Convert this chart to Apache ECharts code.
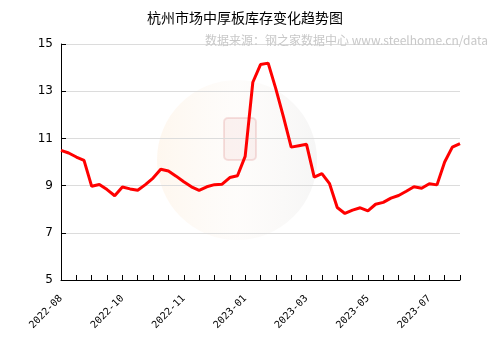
<!DOCTYPE html>
<html>
<head>
<meta charset="utf-8">
<script src="https://cdn.jsdelivr.net/npm/echarts@6/dist/echarts.min.js"></script>
<style>html,body{margin:0;padding:0;background:#fff}#c{width:490px;height:350px}</style>
</head>
<body>
<div id="c"></div>
<script>
var title = '杭州市场中厚板库存变化趋势图';
var source = '数据来源：钢之家数据中心 www.steelhome.cn/data';
var categories = [
 '2022-08-05','2022-08-12','2022-08-19','2022-08-26','2022-09-02','2022-09-09','2022-09-16','2022-09-23',
 '2022-10-14','2022-10-18','2022-10-21','2022-10-25','2022-10-28','2022-11-01','2022-11-04','2022-11-08',
 '2022-11-11','2022-11-18','2022-11-25','2022-12-02','2022-12-09','2022-12-16','2022-12-23','2022-12-30',
 '2023-01-06','2023-01-13','2023-01-20','2023-02-10','2023-02-17','2023-02-24','2023-03-03','2023-03-10',
 '2023-03-17','2023-03-24','2023-03-31','2023-04-07','2023-04-14','2023-04-21','2023-04-28','2023-05-06',
 '2023-05-12','2023-05-19','2023-05-26','2023-06-02','2023-06-09','2023-06-16','2023-06-21','2023-06-30',
 '2023-07-07','2023-07-14','2023-07-21','2023-07-28','2023-08-04'
];
var inventory = [
 10.49,10.38,10.21,10.07,8.97,9.05,8.83,8.57,
 8.94,8.86,8.80,9.04,9.32,9.69,9.62,9.40,
 9.16,8.95,8.80,8.95,9.04,9.06,9.34,9.42,
 10.24,13.38,14.13,14.19,13.1,11.9,10.63,10.69,
 10.75,9.36,9.51,9.08,8.07,7.82,7.96,8.06,
 7.93,8.21,8.29,8.47,8.58,8.76,8.95,8.89,
 9.08,9.03,10.0,10.63,10.78
];
var yMin = 5, yMax = 15, yStep = 2;

var chart = echarts.init(document.getElementById('c'), null, {renderer:'canvas'});
chart.setOption({
  animation: false,
  backgroundColor: '#fff',
  title: [
    {text: title, left: 'center', top: 6, textStyle: {fontFamily: 'Noto Sans CJK SC', fontSize: 14, fontWeight: 'normal', color: '#000'}},
    {text: source, right: -3, top: 29, textStyle: {fontFamily: 'Noto Sans CJK SC', fontSize: 12, fontWeight: 'normal', color: '#c8c8c8'}}
  ],
  graphic: [
    {type: 'circle', shape: {cx: 237, cy: 160, r: 80}, silent: true, z: -1,
     style: {fill: new echarts.graphic.LinearGradient(0, 0, 1, 0, [
        {offset: 0, color: 'rgba(250,200,140,0.14)'},
        {offset: 0.5, color: 'rgba(240,220,200,0.08)'},
        {offset: 1, color: 'rgba(190,190,190,0.14)'}])}},
    {type: 'rect', shape: {x: 224, y: 118, width: 32, height: 42, r: 4}, silent: true, z: -1,
     style: {fill: 'rgba(220,120,120,0.08)', stroke: 'rgba(200,60,60,0.14)', lineWidth: 2}}
  ],
  grid: {left: 61, right: 30, top: 44, bottom: 70, containLabel: false},
  xAxis: {
    type: 'category', data: categories, boundaryGap: false,
    axisLine: {lineStyle: {color: '#000', width: 1}},
    axisTick: {inside: true, length: 5, interval: 1, lineStyle: {color: '#000'}},
    axisLabel: {interval: 7, rotate: 45, fontSize: 10, color: '#000', fontFamily: 'DejaVu Sans Mono', margin: 17,
                formatter: function (v) { return v.slice(0, 7); }},
    splitLine: {show: false}
  },
  yAxis: {
    type: 'value', min: yMin, max: yMax, interval: yStep,
    axisLine: {show: true, lineStyle: {color: '#000', width: 1}},
    axisTick: {show: true, inside: true, length: 5, lineStyle: {color: '#000'}},
    axisLabel: {fontSize: 12, color: '#000', fontFamily: 'DejaVu Sans', margin: 8},
    splitLine: {show: true, lineStyle: {color: '#dcdcdc', width: 1}}
  },
  series: [{
    type: 'line', data: inventory, showSymbol: false, smooth: false,
    lineStyle: {color: '#ff0000', width: 3}, itemStyle: {color: '#ff0000'}
  }]
});
</script>
</body>
</html>
